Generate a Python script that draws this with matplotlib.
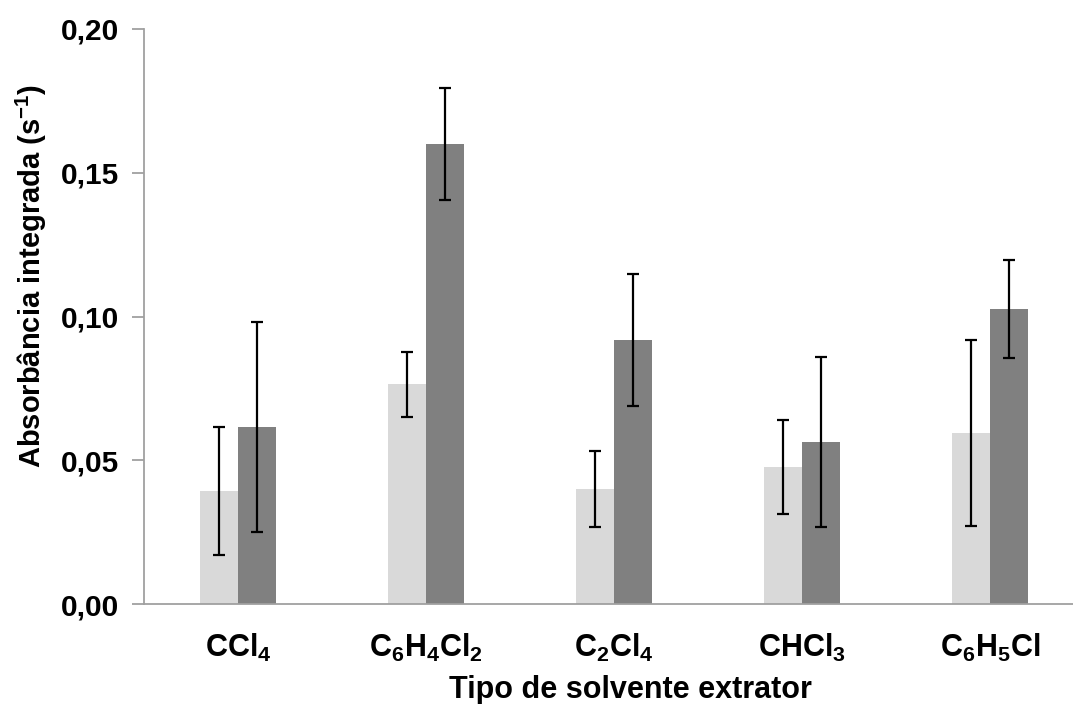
import numpy as np
import matplotlib
matplotlib.use('Agg')
import matplotlib.pyplot as plt

# Data
solvents = [r'$\mathregular{CCl_4}$', r'$\mathregular{C_6H_4Cl_2}$', r'$\mathregular{C_2Cl_4}$',
            r'$\mathregular{CHCl_3}$', r'$\mathregular{C_6H_5Cl}$']
light_vals = [0.0393, 0.0765, 0.0400, 0.0476, 0.0595]
light_err = [0.0221, 0.0113, 0.0132, 0.0164, 0.0322]
dark_vals = [0.0616, 0.1600, 0.0918, 0.0564, 0.1026]
dark_err = [0.0365, 0.0196, 0.0230, 0.0296, 0.0171]
y_ticks = [0.00, 0.05, 0.10, 0.15, 0.20]

plt.rcParams['font.family'] = ['Liberation Sans', 'DejaVu Sans']
plt.rcParams['font.weight'] = 'bold'
plt.rcParams['mathtext.fontset'] = 'custom'
plt.rcParams['mathtext.rm'] = 'Liberation Sans:bold'
plt.rcParams['mathtext.bf'] = 'Liberation Sans:bold'
plt.rcParams['mathtext.it'] = 'Liberation Sans:bold'

fig = plt.figure(figsize=(10.73, 7.04), dpi=100)
# plot area runs a bit past the right edge, as in the original
ax = fig.add_axes([144 / 1073, 100 / 704, 940 / 1073, 575 / 704])

x = np.arange(len(solvents))
w = 0.2
err_kw = dict(ecolor='black', elinewidth=1.6, capsize=4.5, capthick=1.6)
ax.bar(x - w / 2, light_vals, w, color='#d9d9d9', yerr=light_err, error_kw=err_kw, zorder=2)
ax.bar(x + w / 2, dark_vals, w, color='#808080', yerr=dark_err, error_kw=err_kw, zorder=2)

ax.set_xlim(-0.5, len(solvents) - 0.5)
ax.set_ylim(0, 0.20)
ax.set_yticks(y_ticks)
ax.set_yticklabels([f'{v:.2f}'.replace('.', ',') for v in y_ticks], fontsize=21.5, fontweight='bold')
ax.set_xticks(x)
ax.set_xticklabels(solvents, fontsize=22)

for s in ['top', 'right']:
    ax.spines[s].set_visible(False)
for s in ['left', 'bottom']:
    ax.spines[s].set_color('#a0a0a0')
    ax.spines[s].set_linewidth(1.3)
ax.tick_params(axis='y', direction='out', length=9, width=1.3, color='#a0a0a0', pad=9)
ax.tick_params(axis='x', length=0, pad=20)

ax.set_xlabel('Tipo de solvente extrator', fontsize=22, fontweight='bold', va='top')
ax.xaxis.set_label_coords((630 - 144) / 940, (604 - 675) / 575)
ax.set_ylabel(r'Absorbância integrada (s$^{\mathregular{-1}}$)', fontsize=21, fontweight='bold', va='center')
ax.yaxis.set_label_coords((31 - 144) / 940, (604 - 276) / 575)

fig.savefig('out.png', dpi=100)
